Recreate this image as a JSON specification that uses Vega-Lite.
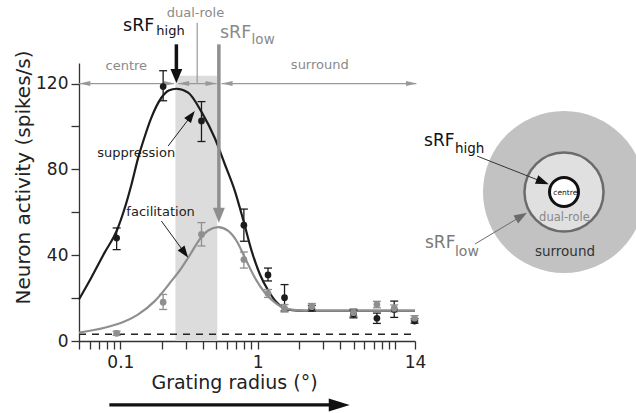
{
  "$schema": "https://vega.github.io/schema/vega-lite/v6.json",
  "padding": {"left": 13, "top": 7, "right": 0, "bottom": 0},
  "spacing": 0,
  "bounds": "flush",
  "config": {
    "view": {"stroke": null},
    "font": "DejaVu Sans",
    "text": {"font": "DejaVu Sans"},
    "axis": {
      "labelFont": "DejaVu Sans", "titleFont": "DejaVu Sans",
      "labelFontSize": 17, "titleFontSize": 19, "titleFontWeight": "normal",
      "labelColor": "#222", "titleColor": "#222",
      "domainColor": "#333", "tickColor": "#333", "domainWidth": 1.3, "tickWidth": 1.3,
      "tickSize": 8, "grid": false, "labelPadding": 3
    }
  },
  "datasets": {
    "measurements": [
      {"series": "high contrast", "x": 0.094, "y": 48, "lo": 42.6, "hi": 52.7},
      {"series": "high contrast", "x": 0.205, "y": 118.6, "lo": 112, "hi": 126},
      {"series": "high contrast", "x": 0.39, "y": 102.6, "lo": 93, "hi": 111.6},
      {"series": "high contrast", "x": 0.794, "y": 54, "lo": 46.5, "hi": 61.5},
      {"series": "high contrast", "x": 1.19, "y": 30.8, "lo": 28, "hi": 34},
      {"series": "high contrast", "x": 1.57, "y": 20.2, "lo": 14, "hi": 26.3},
      {"series": "high contrast", "x": 2.48, "y": 15.3, "lo": 14, "hi": 16.6},
      {"series": "high contrast", "x": 4.99, "y": 12.6, "lo": 10.8, "hi": 14.4},
      {"series": "high contrast", "x": 7.39, "y": 10.6, "lo": 8.2, "hi": 13},
      {"series": "high contrast", "x": 9.88, "y": 14.7, "lo": 11, "hi": 18.6},
      {"series": "high contrast", "x": 13.9, "y": 9.3, "lo": 8.3, "hi": 10.4},
      {"series": "low contrast", "x": 0.094, "y": 3.6, "lo": 2.6, "hi": 4.6},
      {"series": "low contrast", "x": 0.205, "y": 18.1, "lo": 14.7, "hi": 21.7},
      {"series": "low contrast", "x": 0.39, "y": 49.7, "lo": 44.3, "hi": 55.2},
      {"series": "low contrast", "x": 0.794, "y": 38, "lo": 34, "hi": 41.5},
      {"series": "low contrast", "x": 1.19, "y": 22.2, "lo": 20.3, "hi": 24},
      {"series": "low contrast", "x": 1.57, "y": 15.2, "lo": 13.5, "hi": 17},
      {"series": "low contrast", "x": 2.48, "y": 16, "lo": 14.5, "hi": 17.5},
      {"series": "low contrast", "x": 4.99, "y": 13.2, "lo": 11.5, "hi": 15},
      {"series": "low contrast", "x": 7.39, "y": 17, "lo": 15.5, "hi": 18.5},
      {"series": "low contrast", "x": 9.88, "y": 15.2, "lo": 13.6, "hi": 16.8},
      {"series": "low contrast", "x": 13.9, "y": 10.6, "lo": 9.4, "hi": 11.8}
    ],
    "fits": [
      {"series": "high contrast", "x": 0.05, "y": 19.4},
      {"series": "high contrast", "x": 0.0614, "y": 29.5},
      {"series": "high contrast", "x": 0.0768, "y": 41.2},
      {"series": "high contrast", "x": 0.094, "y": 51.3},
      {"series": "high contrast", "x": 0.107, "y": 61.4},
      {"series": "high contrast", "x": 0.12, "y": 72.5},
      {"series": "high contrast", "x": 0.135, "y": 85.5},
      {"series": "high contrast", "x": 0.15, "y": 95},
      {"series": "high contrast", "x": 0.168, "y": 104},
      {"series": "high contrast", "x": 0.199, "y": 113.4},
      {"series": "high contrast", "x": 0.225, "y": 116.8},
      {"series": "high contrast", "x": 0.256, "y": 117.6},
      {"series": "high contrast", "x": 0.312, "y": 115.8},
      {"series": "high contrast", "x": 0.39, "y": 106.8},
      {"series": "high contrast", "x": 0.488, "y": 94.5},
      {"series": "high contrast", "x": 0.577, "y": 82.4},
      {"series": "high contrast", "x": 0.683, "y": 69.9},
      {"series": "high contrast", "x": 0.785, "y": 56.5},
      {"series": "high contrast", "x": 0.904, "y": 42},
      {"series": "high contrast", "x": 1.04, "y": 31},
      {"series": "high contrast", "x": 1.2, "y": 23.3},
      {"series": "high contrast", "x": 1.38, "y": 17.9},
      {"series": "high contrast", "x": 1.63, "y": 14.8},
      {"series": "high contrast", "x": 1.98, "y": 14.2},
      {"series": "high contrast", "x": 2.5, "y": 14.1},
      {"series": "high contrast", "x": 14, "y": 14.1},
      {"series": "low contrast", "x": 0.05, "y": 3.9},
      {"series": "low contrast", "x": 0.0768, "y": 6.2},
      {"series": "low contrast", "x": 0.1017, "y": 8.5},
      {"series": "low contrast", "x": 0.135, "y": 12.4},
      {"series": "low contrast", "x": 0.178, "y": 18.6},
      {"series": "low contrast", "x": 0.236, "y": 28},
      {"series": "low contrast", "x": 0.275, "y": 33.5},
      {"series": "low contrast", "x": 0.312, "y": 38.8},
      {"series": "low contrast", "x": 0.39, "y": 48.5},
      {"series": "low contrast", "x": 0.436, "y": 51.5},
      {"series": "low contrast", "x": 0.517, "y": 53.1},
      {"series": "low contrast", "x": 0.611, "y": 51.3},
      {"series": "low contrast", "x": 0.703, "y": 46.6},
      {"series": "low contrast", "x": 0.808, "y": 38.8},
      {"series": "low contrast", "x": 0.955, "y": 29.5},
      {"series": "low contrast", "x": 1.13, "y": 22.5},
      {"series": "low contrast", "x": 1.34, "y": 17.9},
      {"series": "low contrast", "x": 1.58, "y": 15.2},
      {"series": "low contrast", "x": 1.98, "y": 14.3},
      {"series": "low contrast", "x": 2.5, "y": 14.2},
      {"series": "low contrast", "x": 14, "y": 14.2}
    ]
  },
  "hconcat": [
    {
      "width": 336,
      "height": 278,
      "encoding": {
        "x": {
          "field": "x", "type": "quantitative",
          "scale": {"type": "log", "domain": [0.05, 14], "nice": false},
          "axis": {
            "title": "Grating radius (°)",
            "values": [0.05, 0.06, 0.07, 0.08, 0.09, 0.1, 0.2, 0.3, 0.4, 0.5, 0.6, 0.7, 0.8, 0.9, 1, 2, 3, 4, 5, 6, 7, 8, 9, 10, 14],
            "labelExpr": "datum.value == 0.1 ? '0.1' : datum.value == 1 ? '1' : datum.value == 14 ? '14' : ''",
            "labelOverlap": false, "labelFlush": false, "titleX": 155, "titlePadding": 3, "labelPadding": 5
          }
        },
        "y": {
          "field": "y", "type": "quantitative",
          "scale": {"domain": [0, 129.6], "nice": false, "zero": false},
          "axis": {
            "title": "Neuron activity (spikes/s)",
            "values": [0, 20, 40, 60, 80, 100, 120],
            "labelExpr": "datum.value % 40 == 0 ? datum.label : ''",
            "titleY": 114, "titlePadding": 2, "titleFontSize": 20
          }
        }
      },
      "layer": [
        {
          "data": {"values": [{"x": 0.252, "x2": 0.508, "y": 0, "y2": 123.7}]},
          "mark": {"type": "rect", "fill": "#dcdcdc", "clip": false},
          "encoding": {"x2": {"field": "x2"}, "y2": {"field": "y2"}}
        },
        {
          "data": {"values": [{"x": 0.05, "x2": 14, "y": 3.1}]},
          "mark": {"type": "rule", "stroke": "#222", "strokeWidth": 1.5, "strokeDash": [7, 6]},
          "encoding": {"x2": {"field": "x2"}}
        },
        {
          "data": {"values": [
            {"x": 0.05, "x2": 0.245, "y": 120},
            {"x": 0.264, "x2": 0.502, "y": 120},
            {"x": 0.546, "x2": 14.3, "y": 120}
          ]},
          "mark": {"type": "rule", "stroke": "#999", "strokeWidth": 1.3, "clip": false},
          "encoding": {"x2": {"field": "x2"}}
        },
        {
          "data": {"values": [{"x": 0.0551, "y": 120}, {"x": 0.2892, "y": 120}, {"x": 0.599, "y": 120}]},
          "mark": {"type": "point", "shape": "M-1,0L1,-0.45L1,0.45Z", "size": 121, "filled": true, "fill": "#999", "strokeWidth": 0, "opacity": 1, "clip": false},
          "encoding": {}
        },
        {
          "data": {"values": [{"x": 0.227, "y": 120}, {"x": 0.4576, "y": 120}, {"x": 13.19, "y": 120}]},
          "mark": {"type": "point", "shape": "M1,0L-1,-0.45L-1,0.45Z", "size": 121, "filled": true, "fill": "#999", "strokeWidth": 0, "opacity": 1, "clip": false},
          "encoding": {}
        },
        {
          "data": {"values": [{"x": 0.363, "y": 148.4, "y2": 120}]},
          "mark": {"type": "rule", "stroke": "#999", "strokeWidth": 1.2, "clip": false},
          "encoding": {"y2": {"field": "y2"}}
        },
        {
          "data": {"name": "fits"},
          "mark": {"type": "line", "strokeWidth": 2.2, "interpolate": "monotone"},
          "encoding": {
            "color": {"field": "series", "type": "nominal", "scale": {"domain": ["high contrast", "low contrast"], "range": ["#1c1c1c", "#8f8f8f"]}, "legend": null}
          }
        },
        {
          "data": {"name": "measurements"},
          "mark": {"type": "rule", "strokeWidth": 1.3},
          "encoding": {
            "y": {"field": "lo", "type": "quantitative"},
            "y2": {"field": "hi"},
            "color": {"field": "series", "type": "nominal", "legend": null}
          }
        },
        {
          "data": {"name": "measurements"},
          "mark": {"type": "tick", "orient": "horizontal", "size": 8, "thickness": 1.3, "opacity": 1},
          "encoding": {
            "y": {"field": "lo", "type": "quantitative"},
            "color": {"field": "series", "type": "nominal", "legend": null}
          }
        },
        {
          "data": {"name": "measurements"},
          "mark": {"type": "tick", "orient": "horizontal", "size": 8, "thickness": 1.3, "opacity": 1},
          "encoding": {
            "y": {"field": "hi", "type": "quantitative"},
            "color": {"field": "series", "type": "nominal", "legend": null}
          }
        },
        {
          "data": {"name": "measurements"},
          "mark": {"type": "point", "shape": "circle", "filled": true, "size": 45, "opacity": 1},
          "encoding": {
            "color": {"field": "series", "type": "nominal", "legend": null}
          }
        },
        {
          "data": {"values": [{"x": 0.256, "y": 138.3, "y2": 125}]},
          "mark": {"type": "rule", "stroke": "#111", "strokeWidth": 3.5, "clip": false},
          "encoding": {"y2": {"field": "y2"}}
        },
        {
          "data": {"values": [{"x": 0.256, "y": 123.5}]},
          "mark": {"type": "point", "shape": "M0,1L-0.85,-1L0.85,-1Z", "size": 196, "filled": true, "fill": "#111", "strokeWidth": 0, "opacity": 1, "clip": false},
          "encoding": {}
        },
        {
          "data": {"values": [{"x": 0.522, "y": 138.3, "y2": 60}]},
          "mark": {"type": "rule", "stroke": "#8f8f8f", "strokeWidth": 3.5, "clip": false},
          "encoding": {"y2": {"field": "y2"}}
        },
        {
          "data": {"values": [{"x": 0.522, "y": 58.6}]},
          "mark": {"type": "point", "shape": "M0,1L-0.8,-1L0.8,-1Z", "size": 225, "filled": true, "fill": "#8f8f8f", "strokeWidth": 0, "opacity": 1, "clip": false},
          "encoding": {}
        },
        {
          "data": {"values": [{"x": 0.223, "y": 90.9, "x2": 0.328, "y2": 105}, {"x": 0.1992, "y": 55.9, "x2": 0.294, "y2": 41.1}]},
          "mark": {"type": "rule", "stroke": "#222", "strokeWidth": 1},
          "encoding": {"x2": {"field": "x2"}, "y2": {"field": "y2"}}
        },
        {
          "data": {"values": [{"x": 0.328, "y": 105}]},
          "mark": {"type": "point", "shape": "M0,-1L-0.7,1L0.7,1Z", "size": 144, "angle": 37, "filled": true, "fill": "#111", "strokeWidth": 0, "opacity": 1},
          "encoding": {}
        },
        {
          "data": {"values": [{"x": 0.294, "y": 41.1}]},
          "mark": {"type": "point", "shape": "M0,-1L-0.7,1L0.7,1Z", "size": 144, "angle": 144, "filled": true, "fill": "#111", "strokeWidth": 0, "opacity": 1},
          "encoding": {}
        },
        {
          "data": {"values": [{"x": 0.0679, "y": 85.8, "label": "suppression"}, {"x": 0.1106, "y": 58.3, "label": "facilitation"}]},
          "mark": {"type": "text", "fontSize": 13, "color": "#222", "align": "left", "baseline": "alphabetic"},
          "encoding": {"text": {"field": "label"}}
        },
        {
          "data": {"values": [{"x": 0.1106, "y": 128.2, "label": "centre"}, {"x": 2.836, "y": 128.7, "label": "surround"}, {"x": 0.3526, "y": 152.9, "label": "dual-role"}]},
          "mark": {"type": "text", "fontSize": 13, "color": "#8a8a8a", "align": "center", "baseline": "middle"},
          "encoding": {"text": {"field": "label"}}
        },
        {
          "data": {"values": [{"x": 0.1047, "y": 144.5, "label": "sRF"}]},
          "mark": {"type": "text", "fontSize": 17.5, "color": "#111", "align": "left", "baseline": "alphabetic"},
          "encoding": {"text": {"field": "label"}}
        },
        {
          "data": {"values": [{"x": 0.183, "y": 142.7, "label": "high"}]},
          "mark": {"type": "text", "fontSize": 13, "color": "#111", "align": "left", "baseline": "alphabetic"},
          "encoding": {"text": {"field": "label"}}
        },
        {
          "data": {"values": [{"x": 0.531, "y": 141.4, "label": "sRF"}]},
          "mark": {"type": "text", "fontSize": 17.5, "color": "#8a8a8a", "align": "left", "baseline": "alphabetic"},
          "encoding": {"text": {"field": "label"}}
        },
        {
          "data": {"values": [{"x": 0.904, "y": 138.6, "label": "low"}]},
          "mark": {"type": "text", "fontSize": 13.5, "color": "#8a8a8a", "align": "left", "baseline": "alphabetic"},
          "encoding": {"text": {"field": "label"}}
        },
        {
          "data": {"values": [{"x": 0.0832, "x2": 3.77, "y": -29.8}]},
          "mark": {"type": "rule", "stroke": "#111", "strokeWidth": 3.2, "clip": false},
          "encoding": {"x2": {"field": "x2"}}
        },
        {
          "data": {"values": [{"x": 3.93, "y": -29.8}]},
          "mark": {"type": "point", "shape": "M1,0L-1,-0.62L-1,0.62Z", "size": 441, "filled": true, "fill": "#111", "strokeWidth": 0, "opacity": 1, "clip": false},
          "encoding": {}
        }
      ]
    },
    {
      "width": 223,
      "height": 278,
      "encoding": {
        "x": {"field": "x", "type": "quantitative", "scale": {"domain": [-1.8395, 0.9136], "nice": false, "zero": false}, "axis": null},
        "y": {"field": "y", "type": "quantitative", "scale": {"domain": [-1.8395, 1.5926], "nice": false, "zero": false}, "axis": null}
      },
      "layer": [
        {
          "data": {"values": [{"x": 0, "y": 0, "r": 1, "zone": "surround"}]},
          "mark": {"type": "point", "shape": "circle", "fill": "#c2c2c2", "strokeWidth": 0, "opacity": 1, "fillOpacity": 1},
          "encoding": {"size": {"field": "r", "type": "quantitative", "scale": {"type": "pow", "exponent": 2, "domain": [0, 1], "range": [0, 26244]}, "legend": null}}
        },
        {
          "data": {"values": [{"x": 0, "y": 0, "r": 0.488, "zone": "dual-role"}]},
          "mark": {"type": "point", "shape": "circle", "fill": "#e0e0e0", "stroke": "#6b6b6b", "strokeWidth": 2.5, "opacity": 1, "fillOpacity": 1},
          "encoding": {"size": {"field": "r", "type": "quantitative", "scale": {"type": "pow", "exponent": 2, "domain": [0, 1], "range": [0, 26244]}, "legend": null}}
        },
        {
          "data": {"values": [{"x": 0, "y": 0, "r": 0.179, "zone": "centre"}]},
          "mark": {"type": "point", "shape": "circle", "fill": "#ffffff", "stroke": "#111", "strokeWidth": 3, "opacity": 1, "fillOpacity": 1},
          "encoding": {"size": {"field": "r", "type": "quantitative", "scale": {"type": "pow", "exponent": 2, "domain": [0, 1], "range": [0, 26244]}, "legend": null}}
        },
        {
          "data": {"values": [{"x": 0.016, "y": -0.016, "label": "centre"}]},
          "mark": {"type": "text", "fontSize": 7.5, "color": "#111", "align": "center", "baseline": "middle"},
          "encoding": {"text": {"field": "label"}}
        },
        {
          "data": {"values": [{"x": 0.006, "y": -0.327, "label": "dual-role"}]},
          "mark": {"type": "text", "fontSize": 11.5, "color": "#888", "align": "center", "baseline": "middle"},
          "encoding": {"text": {"field": "label"}}
        },
        {
          "data": {"values": [{"x": 0.012, "y": -0.741, "label": "surround"}]},
          "mark": {"type": "text", "fontSize": 13.5, "color": "#333", "align": "center", "baseline": "middle"},
          "encoding": {"text": {"field": "label"}}
        },
        {
          "data": {"values": [{"x": -1.728, "y": 0.568, "label": "sRF"}]},
          "mark": {"type": "text", "fontSize": 17, "color": "#111", "align": "left", "baseline": "alphabetic"},
          "encoding": {"text": {"field": "label"}}
        },
        {
          "data": {"values": [{"x": -1.346, "y": 0.481, "label": "high"}]},
          "mark": {"type": "text", "fontSize": 13.5, "color": "#111", "align": "left", "baseline": "alphabetic"},
          "encoding": {"text": {"field": "label"}}
        },
        {
          "data": {"values": [{"x": -1.716, "y": -0.691, "label": "sRF"}]},
          "mark": {"type": "text", "fontSize": 17, "color": "#7a7a7a", "align": "left", "baseline": "alphabetic"},
          "encoding": {"text": {"field": "label"}}
        },
        {
          "data": {"values": [{"x": -1.346, "y": -0.79, "label": "low"}]},
          "mark": {"type": "text", "fontSize": 14, "color": "#7a7a7a", "align": "left", "baseline": "alphabetic"},
          "encoding": {"text": {"field": "label"}}
        },
        {
          "data": {"values": [{"x": -1.074, "y": 0.444, "x2": -0.263, "y2": 0.125}]},
          "mark": {"type": "rule", "stroke": "#333", "strokeWidth": 1},
          "encoding": {"x2": {"field": "x2"}, "y2": {"field": "y2"}}
        },
        {
          "data": {"values": [{"x": -0.263, "y": 0.125}]},
          "mark": {"type": "point", "shape": "M0,-1L-0.7,1L0.7,1Z", "size": 169, "angle": 111.5, "filled": true, "fill": "#111", "strokeWidth": 0, "opacity": 1},
          "encoding": {}
        },
        {
          "data": {"values": [{"x": -1.099, "y": -0.642, "x2": -0.526, "y2": -0.298}]},
          "mark": {"type": "rule", "stroke": "#6b6b6b", "strokeWidth": 1},
          "encoding": {"x2": {"field": "x2"}, "y2": {"field": "y2"}}
        },
        {
          "data": {"values": [{"x": -0.526, "y": -0.298}]},
          "mark": {"type": "point", "shape": "M0,-1L-0.7,1L0.7,1Z", "size": 169, "angle": 58.9, "filled": true, "fill": "#6b6b6b", "strokeWidth": 0, "opacity": 1},
          "encoding": {}
        }
      ]
    }
  ]
}
